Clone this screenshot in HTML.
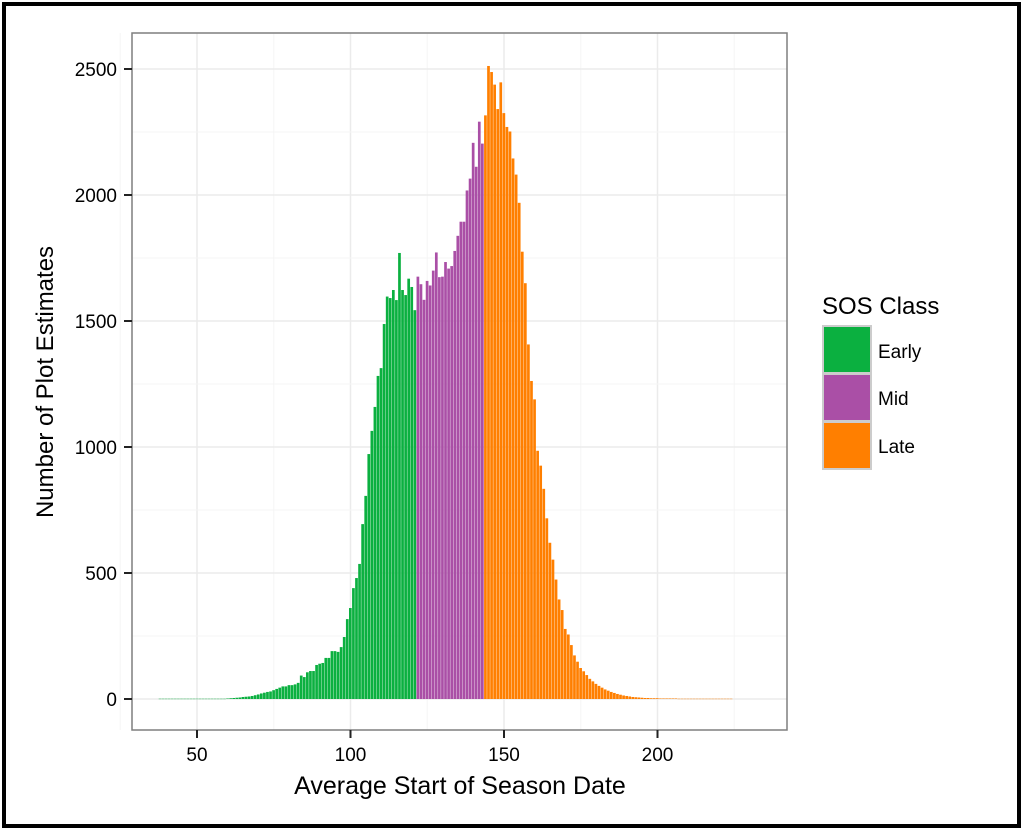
<!DOCTYPE html>
<html><head><meta charset="utf-8"><style>
body{margin:0;background:#fff;width:1024px;height:831px;overflow:hidden;font-family:"Liberation Sans",Arial,sans-serif}
</style></head><body>
<svg id="chart" width="1024" height="831" xmlns="http://www.w3.org/2000/svg" font-family="Liberation Sans, Arial, sans-serif">
<rect x="4" y="4" width="1015" height="822" fill="#fff" stroke="#000" stroke-width="4"/>
<g id="grid"></g>
<g id="bars"></g>
<rect x="132" y="33" width="655" height="697" fill="none" stroke="#7f7f7f" stroke-width="1.5"/>
<g id="axes"></g>
<text x="460" y="794" font-size="25" text-anchor="middle" fill="#000">Average Start of Season Date</text>
<text transform="translate(53,382) rotate(-90)" font-size="24" text-anchor="middle" fill="#000">Number of Plot Estimates</text>
<g>
<text x="822" y="314" font-size="24" fill="#000">SOS Class</text>
<rect x="823" y="326" width="48" height="47" fill="#0bb040" stroke="#ccc" stroke-width="2"/>
<rect x="823" y="374" width="48" height="47" fill="#aa4fa6" stroke="#ccc" stroke-width="2"/>
<rect x="823" y="422" width="48" height="47" fill="#ff7f00" stroke="#ccc" stroke-width="2"/>
<text x="878" y="358" font-size="19">Early</text>
<text x="878" y="405" font-size="19">Mid</text>
<text x="878" y="453" font-size="19">Late</text>
</g>
</svg>
<script>
const startDay = 38;
const counts = [1,1,1,1,1,1,1,1,1,1,1,1,1,1,1,1,1,1,1,1,1,1,2,3,4,5,6,8,9,10,12,15,18,22,25,28,30,35,40,45,
50,50,55,55,58,64,93,87,106,111,111,135,140,143,163,163,190,190,187,206,246,317,361,440,480,536,694,806,972,1064,1159,1282,1313,1488,1597,1591,1623,1583,1770,1623,1603,1668,1635,1543,1676,
1646,1584,1659,1641,1700,1772,1674,1676,1734,1708,1718,1778,1838,1894,1894,2018,2065,2207,2112,2291,2204,2316,
2512,2488,2438,2341,2447,2325,2270,2252,2145,2081,1969,1775,1650,1407,1262,1189,985,926,834,717,620,553,474,395,353,278,256,214,173,148,123,
110,95,80,70,60,52,45,38,33,28,24,20,17,14,12,10,8,7,6,5,4,4,3,3,3,2,2,2,2,2,2,1,1,1,1,1,1,1,1,1,1,1,1,1,1,1,1,1,1];
const classBreaks = [121, 143];
const xTicks = [50,100,150,200];
const yTicks = [0,500,1000,1500,2000,2500];
const colors = ["#0bb040","#aa4fa6","#ff7f00"];
const NS="http://www.w3.org/2000/svg";
const xs = d => 197 + (d-50)*3.07;
const ys = v => 699 - v*0.252;
function mk(tag, attrs, parent){const e=document.createElementNS(NS,tag);for(const k in attrs)e.setAttribute(k,attrs[k]);parent.appendChild(e);return e;}
const grid=document.getElementById('grid'), bars=document.getElementById('bars'), axes=document.getElementById('axes');
mk('rect',{x:132,y:33,width:655,height:697,fill:'#fff'},grid);
for(let t=25;t<=225;t+=25){const l=mk('line',{x1:xs(t),x2:xs(t),y1:33,y2:730,stroke:t%50?'#f5f5f5':'#ebebeb','stroke-width':t%50?1:1.5},grid);

}
for(let t=-250;t<=2750;t+=250){const y=ys(t);if(y<33||y>730)continue;const l=mk('line',{x1:132,x2:787,y1:y,y2:y,stroke:t%500?'#f5f5f5':'#ebebeb','stroke-width':t%500?1:1.5},grid);

}
counts.forEach((v,i)=>{const d=startDay+i;const c=d<=classBreaks[0]?0:(d<=classBreaks[1]?1:2);
const r=mk('rect',{x:xs(d)-1.5,y:ys(v),width:2.7,height:Math.max(0.4,ys(0)-ys(v)),fill:colors[c]},bars);

});
xTicks.forEach(t=>{mk('line',{x1:xs(t),x2:xs(t),y1:730,y2:738,stroke:'#222','stroke-width':2},axes);
const tx=mk('text',{x:xs(t),y:761,'font-size':19,'text-anchor':'middle',fill:'#000'},axes);tx.textContent=t;

});
yTicks.forEach(t=>{mk('line',{x1:124,x2:132,y1:ys(t),y2:ys(t),stroke:'#222','stroke-width':2},axes);
const tx=mk('text',{x:117,y:ys(t)+7,'font-size':19,'text-anchor':'end',fill:'#000'},axes);tx.textContent=t;

});
</script>
</body></html>
